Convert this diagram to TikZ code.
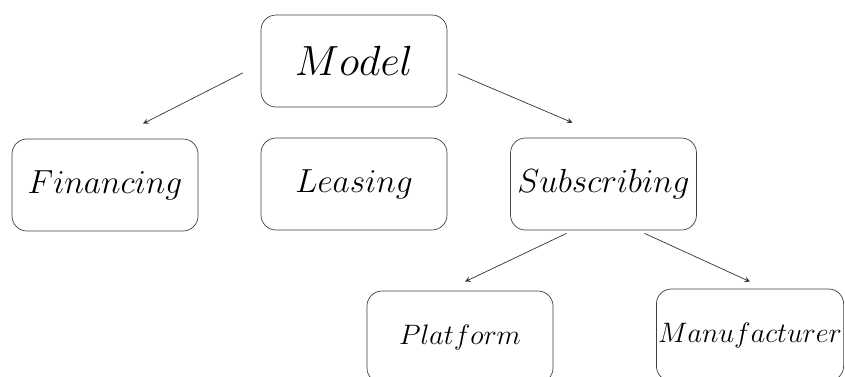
\documentclass[tikz,border=0pt]{standalone}
\usepackage{fix-cm}
\usepackage{tikz}
\usetikzlibrary{arrows, positioning, calc}

\tikzset{
    bloc/.style={draw=black!75, thin, rounded corners=0.3cm, minimum width=3.72cm, minimum height=1.84cm, inner sep=1pt, fill=white, font=\fontsize{19}{23}\selectfont},
    fleche/.style={->, >=stealth, black!80, thin}
}

\begin{document}
\begin{tikzpicture}
        \useasboundingbox (0,0) rectangle (16.9,-7.52);

        % Racine
        \node[bloc, font=\fontsize{24}{29}\selectfont] (model) at (7.08,-1.22) {$Model$};

        % Niveau 1
        \node[bloc] (fin) at (2.10,-3.70) {$Financing$};
        \node[bloc] (lease) at (7.08,-3.68) {$Leasing$};
        \node[bloc] (sub) at (12.07,-3.68) {$Subscribing$};

        % Niveau 2
        \node[bloc, font=\fontsize{16}{19}\selectfont] (plat) at (9.20,-6.74) {$Platform$};
        \node[bloc, font=\fontsize{16}{19}\selectfont] (manu) at (15.00,-6.70) {$Manufacturer$};

        % Fleches
        \draw[fleche] ([xshift=-0.36cm, yshift=-0.24cm]model.west) -- ([xshift=0.76cm, yshift=0.30cm]fin.north);
        \draw[fleche] ([xshift=0.22cm, yshift=-0.26cm]model.east) -- ([xshift=-0.62cm, yshift=0.30cm]sub.north);
        \draw[fleche] ([xshift=-0.74cm, yshift=-0.06cm]sub.south) -- ([xshift=0.10cm, yshift=0.18cm]plat.north);
        \draw[fleche] ([xshift=0.82cm, yshift=-0.06cm]sub.south) -- ([xshift=0cm, yshift=0.14cm]manu.north);
    \end{tikzpicture}
\end{document}
